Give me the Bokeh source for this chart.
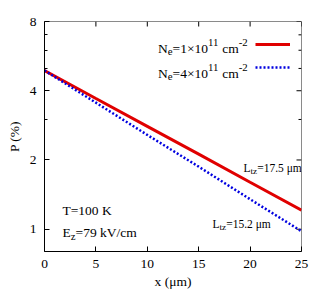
import math
from bokeh.plotting import figure
from bokeh.models import (Range1d, FixedTicker, Label, Legend, LegendItem)
from bokeh.embed import file_html
from bokeh.resources import INLINE

# ---- data ----
x_um = [0, 5, 10, 15, 20, 25]
p_ne1 = [4.90, 3.70, 2.80, 2.12, 1.60, 1.21]   # Ne = 1e11 cm^-2
p_ne4 = [4.90, 3.55, 2.57, 1.87, 1.35, 0.98]   # Ne = 4e11 cm^-2
x_ticks = [0, 5, 10, 15, 20, 25]
y_ticks = [1, 2, 4, 8]
y_tick_labels = ["1", "2", "4", "8"]
y_minor = [3, 5, 6, 7]
x_min, x_max = 0, 25
y_min, y_max = 0.8, 8

FONT = "Liberation Serif"
FS = 13.5

p = figure(width=324, height=294, x_range=Range1d(x_min, x_max),
           y_range=Range1d(y_min, y_max),
           y_axis_type="log", output_backend="svg", toolbar_location=None,
           min_border_left=44, min_border_right=23, min_border_top=21,
           min_border_bottom=43)
p.xgrid.visible = False
p.ygrid.visible = False
p.outline_line_color = "#8a8a8a"
p.background_fill_color = "white"
p.border_fill_color = "white"

xa = p.xaxis[0]
xa.ticker = FixedTicker(ticks=x_ticks, minor_ticks=[])
xa.major_tick_in = 5
xa.major_tick_out = 0
xa.minor_tick_in = 0
xa.minor_tick_out = 0
xa.major_label_standoff = 8
xa.axis_label = "x (μm)"
xa.axis_label_standoff = 3

ya = p.yaxis[0]
ya.ticker = FixedTicker(ticks=y_ticks, minor_ticks=y_minor)
ya.major_label_overrides = dict(zip(y_ticks, y_tick_labels))
ya.major_tick_in = 5
ya.major_tick_out = 0
ya.minor_tick_in = 3
ya.minor_tick_out = 0
ya.major_label_standoff = 8
ya.axis_label = "P (%)"
ya.axis_label_standoff = 5

for ax in (xa, ya):
    ax.major_label_text_font = FONT
    ax.major_label_text_font_size = f"{FS}px"
    ax.major_label_text_color = "black"
    ax.axis_label_text_font = FONT
    ax.axis_label_text_font_size = f"{FS}px"
    ax.axis_label_text_font_style = "normal"
    ax.axis_label_text_color = "black"
    ax.axis_line_color = "black"
    ax.major_tick_line_color = "black"
    ax.minor_tick_line_color = "black"

# mirrored ticks on the top and right frame edges (inward)
p.ray(x=x_ticks, y=[y_max] * len(x_ticks), length=5, length_units="screen",
      angle=-math.pi / 2, line_color="black", line_width=1)
p.ray(x=[x_max] * len(y_ticks), y=y_ticks, length=5, length_units="screen",
      angle=math.pi, line_color="black", line_width=1)
p.ray(x=[x_max] * len(y_minor), y=y_minor, length=3, length_units="screen",
      angle=math.pi, line_color="black", line_width=1)

r1 = p.line(x_um, p_ne1, line_color="#e00000", line_width=3)
r2 = p.line(x_um, p_ne4, line_color="#0000e0", line_width=2.5, line_dash="2 2")

legend = Legend(items=[LegendItem(label=" ", renderers=[r1]),
                       LegendItem(label=" ", renderers=[r2])],
                location=(211, 174), glyph_width=35, glyph_height=20,
                label_height=20, label_width=0, label_standoff=0, spacing=3,
                padding=0, margin=0, border_line_color=None,
                background_fill_alpha=0, label_text_font_size="1px")
p.add_layout(legend, "center")

W = {"N": .722, "e": .444, "=": .564, "×": .564, " ": .25, "c": .444, "m": .778,
     "-": .333, "L": .611, "t": .278, "z": .444, ".": .25, "μ": .576, "T": .611,
     "K": .722, "E": .611, "k": .5, "V": .722, "/": .278}


def tw(s, size):
    return sum(W.get(ch, 0.5) for ch in s) * size


def rich(x, y, parts, size):
    off = 0.0
    for txt, kind in parts:
        fs = size * 0.8 if kind else size
        dy = {"sub": -0.25 * size, "sup": 0.42 * size, None: 0}[kind]
        lead = len(txt) - len(txt.lstrip(" "))
        off += tw(" " * lead, fs)
        body = txt.lstrip(" ")
        p.add_layout(Label(x=x, y=y, x_offset=off, y_offset=dy, text=body,
                           text_font=FONT, text_font_size=f"{fs:.1f}px",
                           text_baseline="alphabetic", text_align="left",
                           text_color="black"))
        off += tw(body, fs)


rich(11.04, 6.11, [("N", None), ("e", "sub"), ("=1×10", None), ("11", "sup"),
                   (" cm", None), ("-2", "sup")], FS)
rich(11.04, 4.76, [("N", None), ("e", "sub"), ("=4×10", None), ("11", "sup"),
                   (" cm", None), ("-2", "sup")], FS)
rich(19.36, 1.85, [("L", None), ("tz", "sub"), ("=17.5 μm", None)], 11.5)
rich(16.34, 1.049, [("L", None), ("tz", "sub"), ("=15.2 μm", None)], 11.5)
rich(1.75, 1.209, [("T=100 K", None)], FS)
rich(1.75, 0.964, [("E", None), ("z", "sub"), ("=79 kV/cm", None)], FS)

open("out.html", "w").write(file_html(p, INLINE))
